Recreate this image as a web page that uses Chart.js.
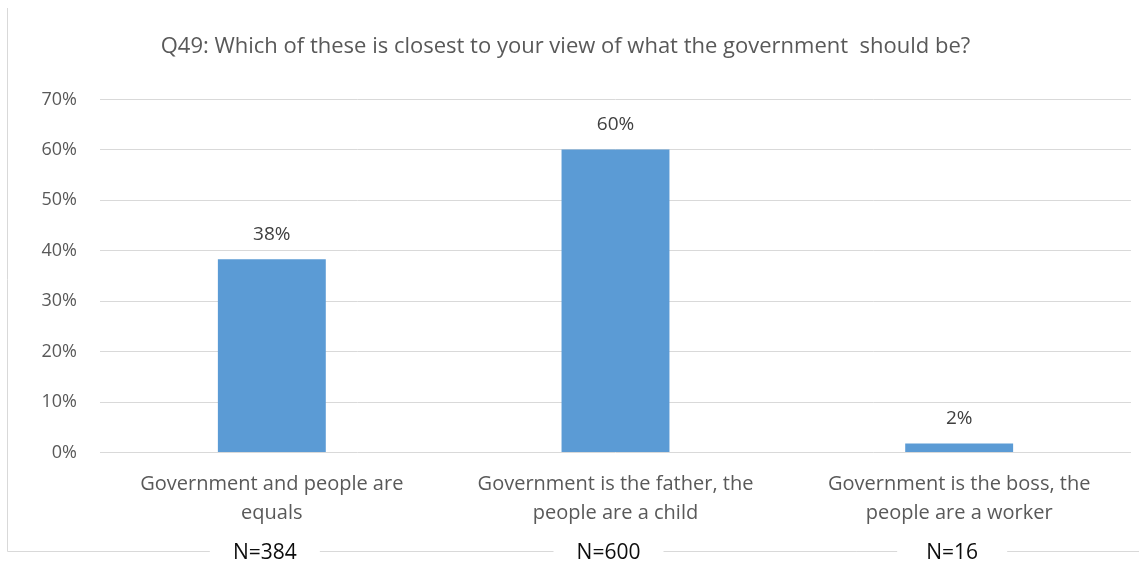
<!DOCTYPE html>
<html>
<head>
<meta charset="utf-8">
<title>Q49 chart</title>
<script src="https://cdn.jsdelivr.net/npm/chart.js@4.4.0/dist/chart.umd.min.js"></script>
<style>
    html, body { margin: 0; padding: 0; background: #fff; }
</style>
</head>
<body>
<canvas id="q49Chart" width="1139" height="565"></canvas>
<script>
// Chart data
const categories = [
    ['Government and people are', 'equals'],
    ['Government is the father, the', 'people are a child'],
    ['Government is the boss, the', 'people are a worker']
];
const shares = [38.3, 60.1, 1.8];
const shareLabels = ['38%', '60%', '2%'];
const sampleSizes = ['N=384', 'N=600', 'N=16'];

const titleText = 'Q49: Which of these is closest to your view of what the government  should be?';

Chart.defaults.font.family = "'Open Sans', sans-serif";

// Frame around the chart, like the cropped border in the source picture
const framePlugin = {
    id: 'frame',
    beforeDraw(chart) {
        const ctx = chart.ctx;
        ctx.save();
        ctx.strokeStyle = '#d9d9d9';
        ctx.lineWidth = 1;
        ctx.beginPath();
        ctx.moveTo(7.5, 8);
        ctx.lineTo(7.5, 551.5);
        ctx.lineTo(chart.width, 551.5);
        ctx.stroke();
        ctx.restore();
    },
    afterDraw(chart) {
        // N= boxes sitting on the bottom border
        const ctx = chart.ctx;
        const xScale = chart.scales.x;
        ctx.save();
        ctx.font = "21px 'Open Sans', sans-serif";
        ctx.textAlign = 'center';
        ctx.textBaseline = 'middle';
        sampleSizes.forEach((txt, i) => {
            const x = xScale.getPixelForTick(i) - 7;
            ctx.fillStyle = '#fff';
            ctx.fillRect(x - 55, 540, 110, 25);
            ctx.fillStyle = '#0d0d0d';
            ctx.fillText(txt, x, 553);
        });
        ctx.restore();
    }
};

// Value labels above each bar
const barLabelPlugin = {
    id: 'barLabels',
    afterDatasetsDraw(chart) {
        const ctx = chart.ctx;
        const meta = chart.getDatasetMeta(0);
        ctx.save();
        ctx.font = "19px 'Open Sans', sans-serif";
        ctx.fillStyle = '#404040';
        ctx.textAlign = 'center';
        ctx.textBaseline = 'middle';
        meta.data.forEach((bar, i) => {
            ctx.fillText(shareLabels[i], bar.x, bar.y - 25);
        });
        ctx.restore();
    }
};

const ctx = document.getElementById('q49Chart').getContext('2d');
new Chart(ctx, {
    type: 'bar',
    data: {
        labels: categories,
        datasets: [{
            label: 'Share',
            data: shares,
            backgroundColor: '#5b9bd5',
            borderWidth: 0,
            categoryPercentage: 1,
            barPercentage: 0.314
        }]
    },
    options: {
        responsive: false,
        animation: false,
        devicePixelRatio: 1,
        layout: { padding: { left: 0, right: 8, top: 0, bottom: 0 } },
        plugins: {
            legend: { display: false },
            tooltip: { enabled: false },
            title: {
                display: true,
                text: titleText,
                color: '#595959',
                font: { size: 22, weight: 'normal' },
                padding: { top: 33.8, bottom: 39.3 }
            }
        },
        scales: {
            x: {
                grid: { display: false, drawTicks: false },
                border: { display: false },
                ticks: {
                    color: '#595959',
                    font: { size: 20, lineHeight: 1.45 },
                    padding: 17,
                    maxRotation: 0,
                    autoSkip: false
                },
                afterFit(scale) { scale.height = 112.5; }
            },
            y: {
                min: 0,
                max: 70,
                grid: { color: '#d9d9d9', drawTicks: false },
                border: { display: false },
                ticks: {
                    stepSize: 10,
                    color: '#595959',
                    font: { size: 18 },
                    padding: 23,
                    callback: v => v + '%'
                },
                afterFit(scale) { scale.width = 100; }
            }
        }
    },
    plugins: [framePlugin, barLabelPlugin]
});
</script>
</body>
</html>
